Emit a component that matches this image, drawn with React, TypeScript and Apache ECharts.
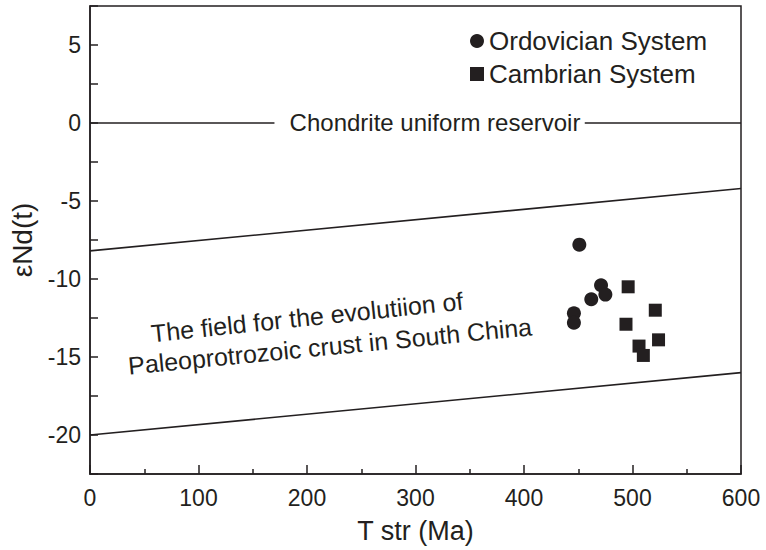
import React, { useEffect, useRef } from "react";
import * as echarts from "echarts";

const ordovician: [number, number][] = [
  [451, -7.8],
  [446, -12.2],
  [446, -12.8],
  [462, -11.3],
  [471, -10.4],
  [475, -11.0],
];
const cambrian: [number, number][] = [
  [496, -10.5],
  [494, -12.9],
  [521, -12.0],
  [506, -14.3],
  [510, -14.9],
  [524, -13.9],
];
const upperBound: [number, number][] = [
  [0, -8.2],
  [600, -4.2],
];
const lowerBound: [number, number][] = [
  [0, -20],
  [600, -16],
];
const churLeft: [number, number][] = [
  [0, 0],
  [170, 0],
];
const churRight: [number, number][] = [
  [456, 0],
  [600, 0],
];

const INK = "#231f20";
const FONT = "Liberation Sans, Arial, sans-serif";

export default function App() {
  const ref = useRef<HTMLDivElement>(null);
  useEffect(() => {
    if (!ref.current) return;
    const chart = echarts.init(ref.current, undefined, { renderer: "svg" });
    const lineSeries = (data: [number, number][]) => ({
      type: "line",
      data,
      symbol: "none",
      silent: true,
      lineStyle: { color: INK, width: 1.6 },
    });
    chart.setOption({
      animation: false,
      backgroundColor: "#fff",
      grid: {
        left: 90,
        right: 25,
        top: 6,
        bottom: 76,
        show: true,
        containLabel: false,
        outerBoundsMode: "none",
        borderColor: INK,
        borderWidth: 1.5,
      },
      xAxis: {
        type: "value",
        min: 0,
        max: 600,
        interval: 100,
        name: "T str (Ma)",
        nameLocation: "middle",
        nameGap: 43,
        nameTextStyle: { fontFamily: FONT, fontSize: 27, color: INK },
        axisLine: { onZero: false, lineStyle: { color: INK, width: 1.5 } },
        axisTick: { inside: true, length: 9, lineStyle: { color: INK, width: 1.5 } },
        minorTick: { show: true, splitNumber: 2, length: 5, lineStyle: { color: INK, width: 1.5 } },
        splitLine: { show: false },
        axisLabel: { fontFamily: FONT, fontSize: 23, color: INK, margin: 12 },
      },
      yAxis: {
        type: "value",
        min: -22.5,
        max: 7.5,
        interval: 2.5,
        name: "εNd(t)",
        nameLocation: "middle",
        nameGap: 48,
        nameRotate: 90,
        nameTextStyle: { fontFamily: FONT, fontSize: 28, color: INK },
        axisLine: { onZero: false, lineStyle: { color: INK, width: 1.5 } },
        axisTick: { inside: true, length: 8, lineStyle: { color: INK, width: 1.5 } },
        splitLine: { show: false },
        axisLabel: {
          fontFamily: FONT,
          fontSize: 23,
          color: INK,
          margin: 9,
          formatter: (v: number) => (v % 5 === 0 ? String(v) : ""),
        },
      },
      legend: {
        orient: "vertical",
        left: 465,
        top: 23,
        itemWidth: 14,
        itemHeight: 14,
        itemGap: 7,
        textStyle: { fontFamily: FONT, fontSize: 26, color: INK },
        data: [
          { name: "Ordovician System", icon: "circle" },
          { name: "Cambrian System", icon: "rect" },
        ],
      },
      series: [
        lineSeries(upperBound),
        lineSeries(lowerBound),
        lineSeries(churLeft),
        lineSeries(churRight),
        {
          name: "Ordovician System",
          type: "scatter",
          data: ordovician,
          symbol: "circle",
          symbolSize: 14,
          itemStyle: { color: INK, opacity: 1 },
        },
        {
          name: "Cambrian System",
          type: "scatter",
          data: cambrian,
          symbol: "rect",
          symbolSize: 13,
          itemStyle: { color: INK, opacity: 1 },
        },
      ],
      graphic: [
        {
          type: "text",
          x: 435,
          y: 122,
          style: {
            text: "Chondrite uniform reservoir",
            fontFamily: FONT,
            fontSize: 24,
            fill: INK,
            align: "center",
            verticalAlign: "middle",
          },
        },
        {
          type: "text",
          x: 307,
          y: 317,
          rotation: 0.105,
          style: {
            text: "The field for the evolutiion of",
            fontFamily: FONT,
            fontSize: 25,
            fill: INK,
            align: "center",
            verticalAlign: "middle",
          },
        },
        {
          type: "text",
          x: 330,
          y: 346,
          rotation: 0.097,
          style: {
            text: "Paleoprotrozoic crust in South China",
            fontFamily: FONT,
            fontSize: 25,
            fill: INK,
            align: "center",
            verticalAlign: "middle",
          },
        },
      ],
    });
    return () => chart.dispose();
  }, []);
  return (
    <div
      ref={ref}
      style={{ position: "fixed", left: 0, top: 0, width: 766, height: 550, background: "#fff" }}
    />
  );
}
